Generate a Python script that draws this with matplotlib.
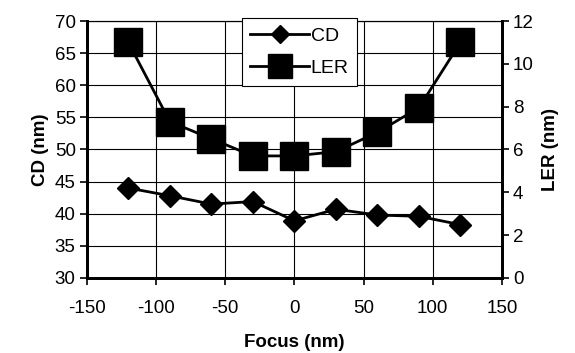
import matplotlib
matplotlib.use("Agg")
import matplotlib.pyplot as plt

plt.rcParams["font.family"] = ["Liberation Sans", "DejaVu Sans"]
plt.rcParams["axes.unicode_minus"] = False

focus = [-120, -90, -60, -30, 0, 30, 60, 90, 120]
cd = [44.0, 42.8, 41.5, 41.9, 38.9, 40.7, 39.8, 39.6, 38.3]
ler = [11.0, 7.3, 6.5, 5.7, 5.7, 5.9, 6.8, 7.95, 11.0]

fig = plt.figure(figsize=(5.75, 3.53), dpi=100)
ax = fig.add_axes([0.151, 0.2125, 0.722, 0.728])
ax2 = ax.twinx()

l1, = ax.plot(focus, cd, "k-", lw=2, marker="D", ms=11, label="CD")
l2, = ax2.plot(focus, ler, "k-", lw=2, marker="s", ms=19.5, label="LER")

ax.set_xlim(-150, 150)
ax.set_ylim(30, 70)
ax2.set_ylim(0, 12)
ax.set_xticks(range(-150, 151, 50))
ax.set_yticks(range(30, 71, 5))
ax2.set_yticks(range(0, 13, 2))
ax.grid(True, color="black", lw=0.8)
ax.set_axisbelow(True)

for a in (ax, ax2):
    a.tick_params(labelsize=13.5, direction="out", length=5, width=1.2, colors="black", pad=3)
    for s in a.spines.values():
        s.set_linewidth(0.8)
    a.spines["left"].set_linewidth(2)
    a.spines["bottom"].set_linewidth(2)
    a.spines["right"].set_linewidth(2)
ax.tick_params(axis="x", pad=11)

ax.set_xlabel("Focus (nm)", fontsize=13.5, fontweight="bold", labelpad=12)
ax.set_ylabel("CD (nm)", fontsize=13.5, fontweight="bold", labelpad=4)
ax2.set_ylabel("LER (nm)", fontsize=13.5, fontweight="bold", labelpad=6)

leg = ax2.legend(handles=[l1, l2], loc="upper left", bbox_to_anchor=(0.373, 1.01),
                 fontsize=14, frameon=True, fancybox=False, framealpha=1,
                 edgecolor="black", markerscale=0.85, handlelength=3.0,
                 borderpad=0.45, labelspacing=0.75, handletextpad=0.1,
                 borderaxespad=0)
leg.get_frame().set_linewidth(0.8)

fig.savefig("out.png", dpi=100)
